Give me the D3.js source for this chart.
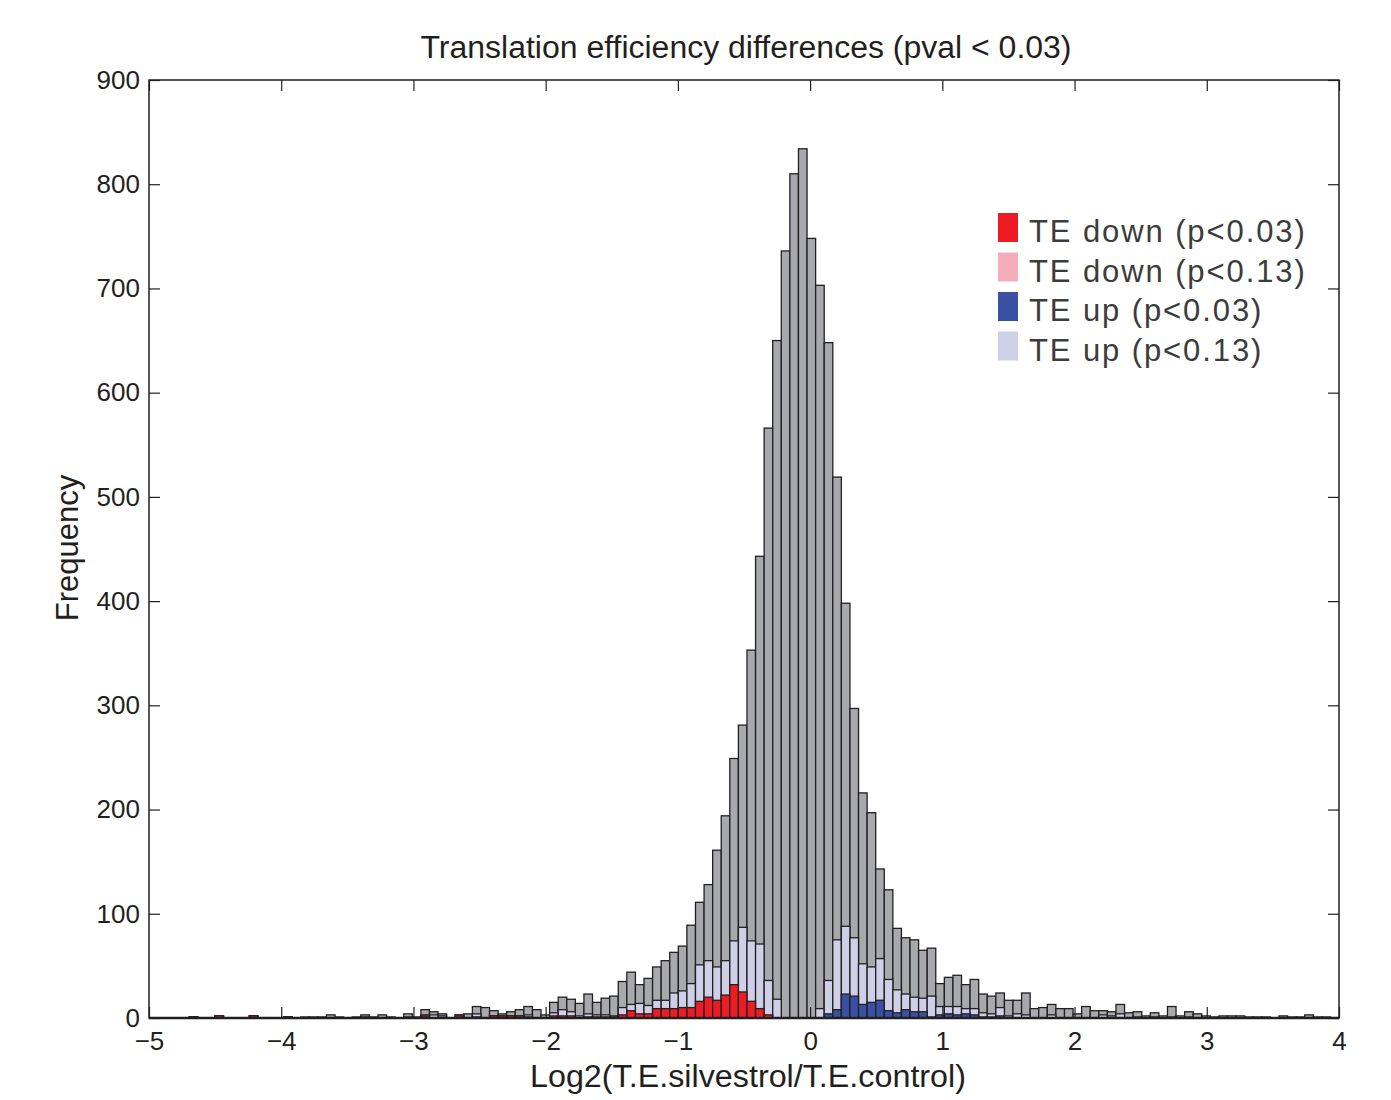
<!doctype html>
<html>
<head>
	<meta charset="utf-8">
	<title>Translation efficiency differences</title>
	<style>
		body { margin: 0; background: #fff; }
		text { font-family: "Liberation Sans", Arial, Helvetica, sans-serif; }
	</style>
</head>
<body>

<svg width="1391" height="1100"></svg>
<script src="https://d3js.org/d3.v7.min.js"></script>
<script>
// histogram bins: left edge of first bin and width (log2 units)
var binStart = -4.696,
    binWidth = 0.0649;

// all genes per bin
var totals = [
  1,0,0,2,0,0,0,2,0,0,0,1,
  0,1,1,1,3,1,0,1,3,1,3,1,0,4,
  1,8,6,4,0,3,4,11,10,7,4,6,8,11,8,3,
  15,20,18,14,23,15,19,21,35,44,32,38,49,55,63,69,
  89,111,128,161,194,249,281,353,443,566,650,736,810,
  834,748,703,648,519,398,297,216,197,143,123,86,77,75,65,67,
  33,39,41,32,37,23,21,24,17,17,24,9,10,13,9,9,4,11,7,7,
  6,13,5,6,2,5,2,11,2,6,4,2,1,2,2,2,1,1,1,0,2,1,1,3,1,1,0
];

// genes with p < 0.13 (drawn lavender)
var weak = [
  1,0,0,2,0,0,0,2,0,0,0,1,
  0,0,0,0,0,0,0,0,1,0,0,0,0,1,
  0,3,3,2,0,3,0,4,0,2,2,2,2,3,0,0,
  5,8,6,2,4,3,3,2,10,13,14,12,17,17,24,26,
  33,51,55,49,55,74,87,74,71,36,18,0,0,
  0,0,9,36,75,88,77,52,49,57,37,27,23,20,19,21,
  11,11,11,9,9,5,4,10,2,4,3,0,0,3,0,0,0,0,0,3,
  2,4,0,1,0,1,0,1,0,1,0,0,0,0,0,0,0,0,0,0,0,0,0,0,0,0,0
];

// TE down, p < 0.03
var downSig = [
  1,0,0,2,0,0,0,2,0,0,0,1,
  0,0,0,0,0,0,0,0,0,0,0,0,0,0,
  0,2,0,0,0,2,0,1,0,2,2,2,2,1,0,0,
  2,2,2,0,1,1,1,1,3,7,4,4,9,9,9,10,
  10,16,20,17,22,32,25,16,9,3,0,0,0,
  0,0,0,0,0,0,0,0,0,0,0,0,0,0,0,0,
  0,0,0,0,0,0,0,0,0,0,0,0,0,0,0,0,0,0,0,0,
  0,0,0,0,0,0,0,0,0,0,0,0,0,0,0,0,0,0,0,0,0,0,0,0,0,0,0
];

// TE up, p < 0.03
var upSig = [
  0,0,0,0,0,0,0,0,0,0,0,0,
  0,0,0,0,0,0,0,0,0,0,0,0,0,0,
  0,0,0,0,0,0,0,0,0,0,0,0,0,0,0,0,
  0,0,0,0,0,0,0,0,0,0,0,0,0,0,0,0,
  0,0,0,0,0,0,0,0,0,0,0,0,0,
  0,0,0,4,8,23,21,13,15,17,7,5,8,6,6,1,
  3,4,3,4,3,1,1,2,0,0,0,0,0,0,0,0,0,0,0,0,
  0,0,0,0,0,0,0,0,0,0,0,0,0,0,0,0,0,0,0,0,0,0,0,0,0,0,0
];

var legendLabels = ["TE down (p<0.03)", "TE down (p<0.13)", "TE up (p<0.03)", "TE up (p<0.13)"];
var legendColors = ["#ed1c24", "#f5aeb9", "#3a51a3", "#cfcfe8"];

var svg = d3.select("svg");
var plotL = 149, plotR = 1339, plotT = 80, plotB = 1018;

var x = d3.scaleLinear().domain([-5, 4]).range([plotL, plotR]);
var y = d3.scaleLinear().domain([0, 900]).range([plotB, plotT]);

function drawBars(values, color) {
  svg.append("g")
    .selectAll("rect")
    .data(values.map(function(v, i) { return {v: v, i: i}; }).filter(function(d) { return d.v > 0; }))
    .enter()
    .append("rect")
    .attr("x", function(d) { return x(binStart + d.i * binWidth); })
    .attr("width", function(d) { return x(binStart + (d.i + 1) * binWidth) - x(binStart + d.i * binWidth); })
    .attr("y", function(d) { return y(d.v); })
    .attr("height", function(d) { return y(0) - y(d.v); })
    .attr("fill", color)
    .attr("stroke", "#231f20")
    .attr("stroke-width", 1.3);
}

drawBars(totals, "#a7a9ac");
drawBars(weak, "#cfcfe8");
drawBars(downSig, "#ed1c24");
drawBars(upSig, "#3a51a3");

// axes, ticks pointing inward
var xTicks = d3.range(-5, 5, 1);
var yTicks = d3.range(0, 1000, 100);

svg.append("g")
  .attr("transform", "translate(0," + plotB + ")")
  .call(d3.axisBottom(x).tickValues(xTicks).tickSize(-11).tickPadding(14));
svg.append("g")
  .attr("transform", "translate(" + plotL + ",0)")
  .call(d3.axisLeft(y).tickValues(yTicks).tickSize(-11).tickPadding(9));
svg.append("g")
  .attr("transform", "translate(0," + plotT + ")")
  .call(d3.axisTop(x).tickValues(xTicks).tickSize(-11).tickFormat(""));
svg.append("g")
  .attr("transform", "translate(" + plotR + ",0)")
  .call(d3.axisRight(y).tickValues(yTicks).tickSize(-11).tickFormat(""));

svg.selectAll(".domain").remove();
svg.selectAll(".tick line").attr("stroke", "#231f20").attr("stroke-width", 1.2);
svg.selectAll(".tick text")
  .attr("font-size", 26)
  .attr("fill", "#231f20")
  .style("font-family", "'Liberation Sans', Arial, sans-serif");

svg.append("rect")
  .attr("x", plotL).attr("y", plotT)
  .attr("width", plotR - plotL).attr("height", plotB - plotT)
  .attr("fill", "none")
  .attr("stroke", "#231f20")
  .attr("stroke-width", 1.5);

svg.append("line")
  .attr("x1", plotL).attr("x2", plotR)
  .attr("y1", plotB).attr("y2", plotB)
  .attr("stroke", "#231f20")
  .attr("stroke-width", 2.5);

// titles
svg.append("text")
  .attr("x", 746).attr("y", 58)
  .attr("text-anchor", "middle")
  .attr("font-size", 31)
  .attr("textLength", 651)
  .attr("lengthAdjust", "spacingAndGlyphs")
  .attr("fill", "#231f20")
  .text("Translation efficiency differences (pval < 0.03)");

svg.append("text")
  .attr("x", 748).attr("y", 1087)
  .attr("text-anchor", "middle")
  .attr("font-size", 31)
  .attr("textLength", 436)
  .attr("lengthAdjust", "spacingAndGlyphs")
  .attr("fill", "#231f20")
  .text("Log2(T.E.silvestrol/T.E.control)");

svg.append("text")
  .attr("transform", "translate(78,548) rotate(-90)")
  .attr("text-anchor", "middle")
  .attr("font-size", 31)
  .attr("fill", "#231f20")
  .text("Frequency");

// legend
var legend = svg.append("g").attr("transform", "translate(998,213)");
legend.selectAll("rect")
  .data(legendColors)
  .enter()
  .append("rect")
  .attr("x", 0)
  .attr("y", function(d, i) { return i * 39.5; })
  .attr("width", 20)
  .attr("height", 29)
  .attr("fill", function(d) { return d; });
legend.selectAll("text")
  .data(legendLabels)
  .enter()
  .append("text")
  .attr("x", 31)
  .attr("y", function(d, i) { return 29 + i * 39.5; })
  .attr("font-size", 31)
  .attr("letter-spacing", 1.9)
  .attr("fill", "#3c3c3c")
  .text(function(d) { return d; });
</script>
</body>
</html>
